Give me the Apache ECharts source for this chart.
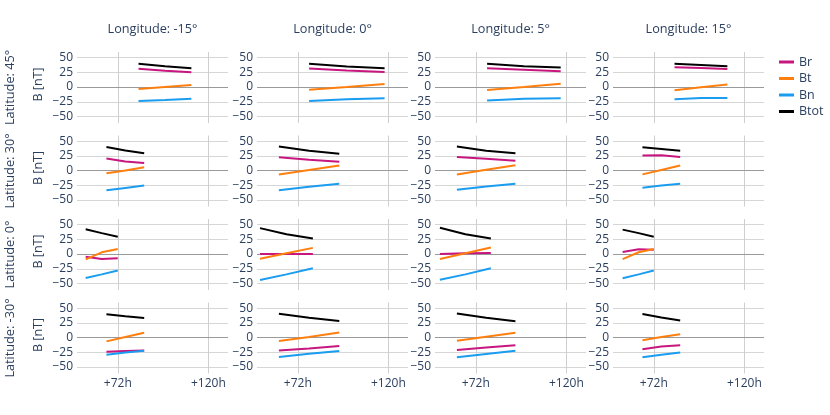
<!DOCTYPE html>
<html>
<head>
<meta charset="utf-8">
<script src="https://cdn.jsdelivr.net/npm/echarts@6/dist/echarts.min.js"></script>
<style>html,body{margin:0;padding:0;background:#fff}#c{width:830px;height:415px}</style>
</head>
<body>
<div id="c"></div>
<script>
const latitudes = ['45°', '30°', '0°', '-30°'];
const longitudes = ['-15°', '0°', '5°', '15°'];
const xTicks = [72, 120];
const yTicks = [-50, -25, 0, 25, 50];
const seriesNames = ['Br', 'Bt', 'Bn', 'Btot'];
const seriesColors = ['#c8167f', '#ff7f0e', '#1a9cf0', '#000000'];

// hours [row][col] -> time points
const hours = [
  [[83, 97, 111], [78, 98, 118], [78, 97.5, 117], [83, 97, 111]],
  [[66, 76, 86], [62, 78, 94], [62, 77.5, 93], [66, 76, 86]],
  [[55, 63.5, 72], [52, 66, 80], [53, 66.5, 80], [55.5, 64, 72]],
  [[66, 76, 86], [62, 78, 94], [62, 77.5, 93], [66, 76, 86]]
];
const Br = [
  [[31, 27.5, 25], [31.5, 28, 25.5], [32, 29.5, 27], [33.5, 32.5, 30.5]],
  [[20.5, 15.5, 13], [22.5, 18.5, 15], [23, 20, 16.5], [25.5, 26, 23]],
  [[-4.5, -8.5, -7], [0, 0, 0], [0.3, 1.5, 2], [3.5, 8, 7.5]],
  [[-24, -23, -22], [-22, -18.5, -14.5], [-21, -17, -13], [-20, -15, -13]]
];
const Bt = [
  [[-3.5, 0, 3.5], [-4.5, 0, 5], [-5, 0, 5.5], [-5.5, -0.5, 4.5]],
  [[-4.5, 0, 5.5], [-6.5, 1, 8.5], [-6.5, 1.5, 9], [-6.5, 1, 8.5]],
  [[-9, 3, 8.5], [-8, 1.5, 10.5], [-8.5, 1.5, 11], [-8.5, 3, 8.5]],
  [[-6.5, 1, 8], [-6, 1, 8.5], [-5.5, 1.5, 8], [-4.5, 1, 5.5]]
];
const Bn = [
  [[-23.5, -22, -20], [-23.5, -20.5, -19], [-23, -20, -19], [-20.5, -18.5, -18.5]],
  [[-33.5, -29.5, -25.5], [-33.5, -27.5, -22.5], [-32.5, -27, -22.5], [-29, -25.5, -22.5]],
  [[-40.5, -34.5, -28], [-44, -34.5, -24], [-43.5, -34.5, -24], [-41, -34.5, -28]],
  [[-29, -25.5, -22.5], [-33, -27.5, -23], [-33.5, -28, -22.5], [-33.5, -29, -25.5]]
];
const Btot = [
  [[39.5, 35.5, 32], [39.5, 35, 32], [39.5, 35.5, 33], [39.5, 37.5, 35.5]],
  [[40, 34, 29.5], [41, 33.5, 28.5], [41, 33.5, 29.5], [39.5, 36.5, 33.5]],
  [[42, 35.5, 29.5], [44, 33.5, 26.5], [44.5, 33.5, 26.5], [41.5, 35.5, 29.5]],
  [[39.5, 36, 33], [40.5, 33.5, 28], [41, 33.5, 27.5], [40, 34, 29]]
];
const components = [Br, Bt, Bn, Btot];

const FONT = '"Open Sans", verdana, arial, sans-serif';
const TXT = '#2a3f5f';
const colLeft = [77, 257, 435, 613];
const rowTop = [52, 135.5, 219, 302.5];
const W = 151, H = 71;

const grids = [], xAxes = [], yAxes = [], series = [], graphics = [];
let gi = 0;
for (let r = 0; r < 4; r++) {
  for (let c = 0; c < 4; c++) {
    grids.push({left: colLeft[c], top: rowTop[r], width: W, height: H, containLabel: false});
    xAxes.push({
      type: 'value', gridIndex: gi, min: 50.4, max: 130.4,
      axisLine: {show: false},
      axisTick: {show: false, customValues: xTicks},
      axisLabel: {show: r === 3, customValues: xTicks, formatter: v => '+' + v + 'h',
        color: TXT, fontFamily: FONT, fontSize: 12, margin: 4},
      splitLine: {show: true, lineStyle: {color: '#cfcfcf', width: 1}}
    });
    yAxes.push({
      type: 'value', gridIndex: gi, min: -61, max: 59.5,
      axisLine: {show: false},
      axisTick: {show: false, customValues: yTicks},
      axisLabel: {customValues: yTicks, formatter: v => (v < 0 ? '\u2212' + Math.abs(v) : String(v)),
        color: TXT, fontFamily: FONT, fontSize: 12, margin: 4},
      splitLine: {show: true, lineStyle: {color: '#d6d6d6', width: 1}}
    });
    components.forEach((comp, k) => {
      const s = {
        name: seriesNames[k], type: 'line', xAxisIndex: gi, yAxisIndex: gi,
        data: hours[r][c].map((t, i) => [t, comp[r][c][i]]),
        showSymbol: false, symbol: 'none', smooth: false,
        lineStyle: {color: seriesColors[k], width: 2},
        itemStyle: {color: seriesColors[k]},
        animation: false, z: 3 + k
      };
      if (k === 0) {
        s.markLine = {silent: true, symbol: 'none', label: {show: false}, animation: false,
          lineStyle: {color: '#9a9a9a', width: 1, type: 'solid'}, data: [{yAxis: 0}], z: 1};
      }
      series.push(s);
    });
    gi++;
  }
}
for (let c = 0; c < 4; c++) {
  graphics.push({type: 'text', x: colLeft[c] + W / 2, y: 29,
    style: {text: 'Longitude: ' + longitudes[c], align: 'center', verticalAlign: 'middle',
      fill: TXT, font: '12.7px ' + FONT}});
}
for (let r = 0; r < 4; r++) {
  const cy = rowTop[r] + H / 2;
  graphics.push({type: 'text', x: 10, y: cy, rotation: Math.PI / 2,
    style: {text: 'Latitude: ' + latitudes[r], align: 'center', verticalAlign: 'middle',
      fill: TXT, font: '12.7px ' + FONT}});
  graphics.push({type: 'text', x: 38, y: cy - 3, rotation: Math.PI / 2,
    style: {text: 'B [nT]', align: 'center', verticalAlign: 'middle',
      fill: TXT, font: '12.5px ' + FONT}});
}

const chart = echarts.init(document.getElementById('c'), null, {renderer: 'canvas'});
chart.setOption({
  animation: false,
  backgroundColor: '#ffffff',
  grid: grids, xAxis: xAxes, yAxis: yAxes, series: series,
  legend: {
    orient: 'vertical', left: 779, top: 55, padding: 0, itemWidth: 15, itemHeight: 3, itemGap: 2.5,
    icon: 'rect', data: seriesNames,
    textStyle: {color: TXT, fontFamily: FONT, fontSize: 12.5, lineHeight: 14}
  },
  graphic: graphics
});
</script>
</body>
</html>
